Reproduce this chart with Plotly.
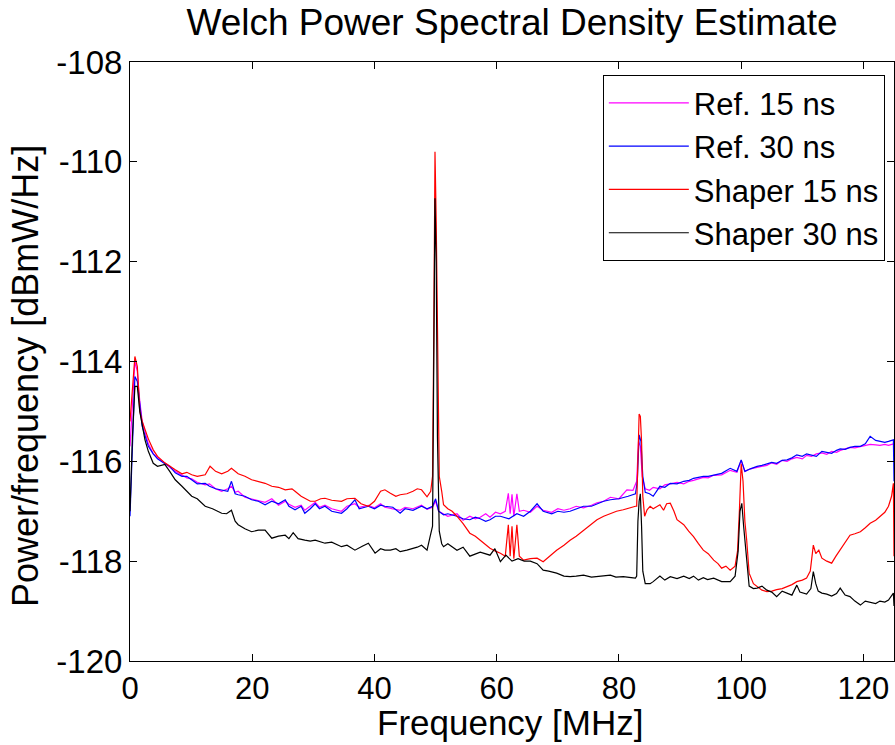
import plotly.graph_objects as go

# ---------------- data ----------------
# Ref. 15 ns (magenta)
ref15_f = [0, 0.4, 0.8, 1.2, 1.6, 2.0, 2.5, 3.0, 3.8, 4.5, 5.7, 6.5, 7.4, 8.5, 9.3, 10.1, 11.0, 12.3, 13.0, 14.0,
           15.0, 16.0, 16.6, 17.2, 17.7, 18.8, 19.9, 21.0, 22.1, 23.2, 24.3, 25.4, 26.0, 27.0, 28.0, 28.6, 29.5,
           30.3, 31.0, 31.9, 33.0, 34.6, 35.5, 36.8, 37.5, 39.0, 40.0, 41.0, 41.7, 43.0, 44.2, 45.0, 46.3, 47.7,
           48.6, 49.5, 50.0, 50.5, 51.3, 52.0, 53.5, 54.5, 55.6, 56.5, 57.3, 58.2, 58.9, 59.8, 60.6, 61.4, 61.9,
           62.2, 62.5, 62.8, 63.3, 63.7, 64.4, 65.5, 66.6, 67.6, 69.0, 70.0, 71.0, 72.0, 73.0, 74.2, 75.5, 76.4,
           77.5, 78.6, 80.0, 81.3, 82.3, 82.9, 83.2, 83.5, 83.8, 84.3, 85.0, 85.6, 86.7, 87.5, 88.4, 89.5, 90.6,
           91.5, 92.2, 93.0, 93.8, 94.6, 95.5, 96.8, 98.2, 99.3, 100.0, 100.6, 101.5, 102.6, 103.4, 104.2, 105.0,
           105.8, 106.7, 107.5, 108.3, 109.1, 110.0, 110.7, 111.5, 112.3, 113.2, 114.0, 114.8, 115.6, 116.2, 117.0,
           117.8, 118.6, 119.5, 120.3, 121.1, 122.0, 122.7, 123.5, 124.1, 124.9, 125.0]
ref15_v = [-115.7, -114.8, -114.0, -114.2, -114.8, -115.2, -115.45, -115.65, -115.85, -115.92, -116.05, -116.12,
           -116.2, -116.27, -116.33, -116.35, -116.42, -116.47, -116.45, -116.55, -116.6, -116.55, -116.5, -116.62,
           -116.6, -116.72, -116.75, -116.78, -116.82, -116.75, -116.88, -116.8, -116.86, -116.92, -116.88,
           -116.98, -116.9, -116.82, -116.92, -116.88, -116.95, -117.0, -116.9, -116.85, -116.92, -116.88, -116.93,
           -116.85, -116.92, -116.95, -116.98, -116.92, -116.95, -116.88, -116.96, -116.92, -116.8, -117.0,
           -117.05, -117.1, -117.05, -117.18, -117.1, -117.15, -117.12, -117.05, -117.12, -117.02, -117.05, -117.0,
           -116.64, -117.05, -116.66, -117.1, -116.65, -117.0, -116.98, -117.02, -116.9, -116.98, -117.02, -116.95,
           -116.98, -116.95, -116.9, -116.93, -116.88, -116.83, -116.8, -116.72, -116.75, -116.57, -116.58,
           -116.4, -115.6, -115.7, -116.3, -116.55, -116.58, -116.52, -116.55, -116.47, -116.45, -116.42, -116.45,
           -116.4, -116.38, -116.35, -116.32, -116.33, -116.28, -116.27, -116.18, -116.22, -115.98, -116.2,
           -116.15, -116.12, -116.1, -116.08, -116.03, -116.06, -115.98, -116.0, -115.95, -115.92, -115.95,
           -115.88, -115.9, -115.85, -115.83, -115.86, -115.8, -115.82, -115.78, -115.75, -115.72, -115.73,
           -115.7, -115.68, -115.66, -115.67, -115.68, -115.66, -115.68, -115.65, -115.66, -116.0]

# Ref. 30 ns (blue)
ref30_f = [0, 0.4, 0.8, 1.2, 1.6, 2.0, 2.5, 3.0, 3.8, 4.5, 5.7, 6.5, 7.4, 8.5, 9.3, 10.1, 11.0, 12.3, 13.0, 14.0,
           15.0, 16.0, 16.6, 17.2, 17.7, 18.8, 19.9, 21.0, 22.1, 23.2, 24.3, 25.4, 26.0, 27.0, 28.0, 28.6, 29.5,
           30.3, 31.0, 31.9, 33.0, 34.6, 35.5, 36.8, 37.5, 39.0, 40.0, 41.0, 41.7, 43.0, 44.2, 45.0, 46.3, 47.7,
           48.6, 49.5, 50.0, 50.5, 51.3, 52.0, 53.5, 54.5, 55.6, 56.5, 57.3, 58.2, 58.9, 59.8, 60.6, 62.0, 63.3,
           64.4, 65.5, 66.6, 67.6, 69.0, 70.0, 71.0, 72.0, 73.0, 74.2, 75.5, 76.4, 77.5, 78.6, 80.0, 81.5, 82.7,
           83.0, 83.3, 83.6, 83.9, 84.3, 85.0, 85.6, 86.7, 87.5, 88.4, 89.5, 90.6, 91.5, 92.2, 93.0, 93.8, 94.6,
           95.5, 96.8, 98.2, 99.3, 100.0, 100.6, 101.5, 102.6, 103.4, 104.2, 105.0, 105.8, 106.7, 107.5, 108.3,
           109.1, 110.0, 110.7, 111.5, 112.3, 113.2, 114.0, 114.8, 115.6, 116.2, 117.0, 117.8, 118.6, 119.5,
           120.3, 121.1, 122.0, 122.7, 123.5, 124.1, 124.9, 125.0]
ref30_v = [-117.1, -115.5, -114.3, -114.4, -114.9, -115.3, -115.5, -115.7, -115.85, -115.95, -116.05, -116.1,
           -116.23, -116.3, -116.3, -116.37, -116.45, -116.44, -116.5, -116.55, -116.57, -116.6, -116.4, -116.65,
           -116.67, -116.7, -116.77, -116.8, -116.87, -116.8, -116.85, -116.77, -116.9, -116.97, -116.9, -117.04,
           -116.95, -116.85, -116.95, -116.9, -117.0, -117.04, -116.95, -116.77, -116.95, -116.9, -116.95, -116.88,
           -116.9, -116.92, -117.04, -116.95, -116.98, -116.9, -116.95, -116.9, -116.75, -117.0, -117.07, -117.05,
           -117.1, -117.15, -117.17, -117.12, -117.15, -117.2, -117.17, -117.1, -117.1, -117.15, -117.05, -117.1,
           -117.0, -116.85, -117.0, -117.05, -117.0, -117.02, -117.0, -116.95, -116.9, -116.9, -116.85, -116.8,
           -116.77, -116.75, -116.7, -116.65, -116.4, -115.47, -115.6, -116.3, -116.62, -116.65, -116.7, -116.5,
           -116.52, -116.44, -116.45, -116.4, -116.38, -116.34, -116.32, -116.3, -116.3, -116.27, -116.24,
           -116.14, -116.2, -115.97, -116.2, -116.15, -116.1, -116.08, -116.05, -116.02, -116.04, -115.98,
           -115.97, -115.93, -115.87, -115.9, -115.85, -115.88, -115.9, -115.8, -115.82, -115.84, -115.78, -115.75,
           -115.76, -115.72, -115.7, -115.7, -115.65, -115.5, -115.58, -115.6, -115.62, -115.6, -115.57, -116.4]

# Shaper 15 ns (red)
sh15_f = [0, 0.4, 0.8, 1.2, 1.6, 2.0, 2.5, 3.0, 3.8, 4.5, 5.7, 6.5, 7.4, 8.5, 9.3, 10.1, 11.0, 12.3, 13.1, 14.0,
          15.0, 16.0, 16.6, 17.7, 18.8, 19.9, 21.0, 22.1, 23.2, 24.3, 25.4, 26.5, 27.0, 28.0, 28.6, 29.5, 30.3,
          31.2, 31.9, 33.0, 34.6, 35.5, 36.8, 37.8, 39.0, 40.0, 41.0, 41.7, 42.6, 43.5, 44.2, 45.3, 46.3, 47.0,
          47.7, 48.6, 49.2, 49.5, 49.7, 49.9, 50.1, 50.3, 50.6, 51.0, 51.3, 52.0, 52.7, 53.5, 54.5, 55.6, 56.5,
          57.3, 58.0, 58.9, 59.8, 60.6, 61.4, 61.9, 62.2, 62.5, 62.8, 63.3, 63.7, 64.4, 65.5, 66.6, 67.6, 68.7,
          69.8, 71.0, 72.0, 73.0, 74.2, 75.3, 76.4, 77.5, 78.6, 79.6, 80.7, 81.7, 82.7, 82.9, 83.1, 83.3, 83.5,
          83.7, 83.9, 84.2, 84.6, 85.1, 85.6, 86.2, 86.7, 87.3, 87.8, 88.4, 89.0, 89.5, 90.6, 91.4, 92.2, 93.0,
          93.8, 94.6, 95.5, 96.2, 96.8, 97.5, 98.2, 99.0, 99.4, 99.7, 100.0, 100.3, 100.6, 100.9, 101.3, 102.0,
          102.6, 103.4, 104.2, 105.0, 105.8, 106.7, 107.5, 108.3, 109.1, 110.0, 110.7, 111.3, 111.8, 112.2,
          112.7, 113.2, 114.0, 114.8, 115.5, 116.2, 117.0, 117.8, 118.6, 119.5, 120.3, 121.1, 122.0, 122.7,
          123.5, 124.1, 124.6, 124.9, 125.0]
sh15_v = [-115.2, -114.5, -113.9, -114.1, -115.0, -115.2, -115.37, -115.55, -115.77, -115.9, -116.03, -116.1,
          -116.17, -116.25, -116.22, -116.27, -116.3, -116.27, -116.1, -116.2, -116.25, -116.2, -116.14, -116.25,
          -116.3, -116.37, -116.4, -116.44, -116.5, -116.52, -116.57, -116.55, -116.6, -116.7, -116.74, -116.8,
          -116.8, -116.75, -116.74, -116.78, -116.8, -116.75, -116.74, -116.85, -116.9, -116.8, -116.6, -116.57,
          -116.64, -116.7, -116.67, -116.65, -116.6, -116.55, -116.57, -116.71, -116.6, -116.3, -113.5, -109.8,
          -111.2, -113.8, -116.3, -116.6, -116.87, -116.95, -117.0, -117.1, -117.25, -117.44, -117.5, -117.58,
          -117.65, -117.74, -117.8, -117.84, -117.9, -117.27, -117.9, -117.3, -117.95, -117.27, -117.9, -117.98,
          -117.95, -117.94, -118.01, -117.9, -117.78, -117.68, -117.58, -117.5, -117.38, -117.28, -117.17, -117.1,
          -117.04, -117.0, -116.97, -116.93, -116.9, -116.9, -115.8, -115.05, -115.1, -115.6, -116.7, -117.1,
          -116.97, -116.9, -116.95, -116.9, -116.87, -116.98, -116.85, -116.84, -117.0, -117.17, -117.27, -117.4,
          -117.51, -117.65, -117.78, -117.85, -117.98, -118.05, -118.14, -118.1, -118.18, -118.1, -117.8, -117.0,
          -116.05, -116.4, -117.2, -117.58, -118.24, -118.45, -118.51, -118.58, -118.61, -118.6, -118.57, -118.55,
          -118.51, -118.47, -118.41, -118.38, -118.34, -118.2, -117.68, -117.85, -117.78, -117.94, -118.0,
          -118.04, -117.9, -117.78, -117.62, -117.48, -117.45, -117.41, -117.33, -117.24, -117.18, -117.1,
          -117.02, -116.9, -116.7, -116.44, -117.9]

# Shaper 30 ns (black)
sh30_f = [0, 0.4, 0.8, 1.2, 1.6, 2.0, 2.45, 3.0, 3.8, 4.5, 5.7, 6.5, 7.4, 8.5, 9.3, 10.1, 11.0, 12.3, 13.5, 14.5,
          15.0, 15.8, 16.6, 17.2, 17.7, 18.8, 19.9, 21.0, 22.1, 23.2, 24.3, 25.4, 26.0, 26.7, 27.5, 28.6, 29.5,
          30.3, 31.2, 31.9, 33.0, 34.0, 34.6, 35.5, 36.8, 38.0, 39.0, 40.1, 41.0, 41.7, 42.6, 43.5, 44.2, 45.3,
          46.3, 47.0, 47.7, 48.6, 49.1, 49.5, 49.7, 49.9, 50.1, 50.3, 50.6, 51.0, 51.3, 52.0, 53.5, 54.5, 55.6,
          57.3, 58.9, 59.7, 60.6, 61.5, 62.5, 63.5, 64.5, 65.5, 66.6, 67.6, 68.5, 69.8, 71.0, 72.0, 73.0, 74.2,
          75.5, 76.4, 77.5, 78.6, 79.5, 80.7, 82.0, 82.7, 82.9, 83.1, 83.3, 83.5, 83.7, 83.9, 84.3, 85.1, 85.6,
          86.7, 87.5, 88.4, 89.5, 90.6, 91.5, 92.2, 93.0, 93.8, 94.5, 95.5, 96.8, 98.2, 99.0, 99.5, 99.8, 100.1,
          100.4, 100.9, 101.3, 102.0, 102.6, 103.4, 104.2, 105.0, 105.8, 106.7, 107.5, 108.3, 109.1, 109.6,
          110.7, 111.4, 111.8, 112.2, 112.6, 113.2, 114.0, 114.8, 115.6, 116.2, 117.0, 117.8, 118.6, 119.5,
          120.3, 121.1, 122.0, 122.7, 123.5, 124.1, 124.9, 125.0]
sh30_v = [-117.0, -115.5, -114.5, -114.5, -115.0, -115.3, -115.57, -115.8, -116.04, -116.1, -116.06, -116.2,
          -116.37, -116.5, -116.6, -116.7, -116.75, -116.9, -116.95, -117.0, -117.04, -117.05, -116.98, -117.2,
          -117.27, -117.35, -117.41, -117.38, -117.38, -117.54, -117.5, -117.48, -117.55, -117.43, -117.55,
          -117.58, -117.6, -117.58, -117.62, -117.64, -117.62, -117.68, -117.71, -117.68, -117.78, -117.7,
          -117.64, -117.84, -117.75, -117.78, -117.78, -117.75, -117.81, -117.78, -117.75, -117.72, -117.68,
          -117.78, -117.51, -117.3, -114.0, -110.73, -112.0, -115.5, -117.4, -117.65, -117.71, -117.65, -117.78,
          -117.72, -117.9, -117.82, -117.88, -117.75, -118.01, -117.88, -118.0, -117.95, -118.0, -118.0, -118.05,
          -118.18, -118.2, -118.24, -118.3, -118.31, -118.3, -118.28, -118.32, -118.31, -118.3, -118.28, -118.32,
          -118.31, -118.33, -118.34, -118.3, -117.2, -116.8, -116.65, -117.3, -118.2, -118.45, -118.45, -118.41,
          -118.3, -118.38, -118.31, -118.35, -118.3, -118.35, -118.3, -118.38, -118.33, -118.37, -118.34,
          -118.41, -118.41, -118.3, -117.8, -117.0, -116.84, -117.3, -117.9, -118.5, -118.55, -118.54, -118.5,
          -118.58, -118.62, -118.71, -118.6, -118.64, -118.68, -118.48, -118.62, -118.66, -118.55, -118.21,
          -118.45, -118.6, -118.64, -118.66, -118.7, -118.65, -118.54, -118.68, -118.71, -118.8, -118.88, -118.8,
          -118.82, -118.85, -118.8, -118.82, -118.78, -118.64, -118.9]

series_names = ["Ref. 15 ns", "Ref. 30 ns", "Shaper 15 ns", "Shaper 30 ns"]
series_colors = ["#ff00ff", "#0000ff", "#ff0000", "#000000"]

x_ticks = [0, 20, 40, 60, 80, 100, 120]
y_ticks = [-120, -118, -116, -114, -112, -110, -108]

title_text = "Welch Power Spectral Density Estimate"
x_label = "Frequency [MHz]"
y_label = "Power/frequency [dBmW/Hz]"

# ---------------- figure ----------------
FONT = "Liberation Sans, Arial, Helvetica, sans-serif"
W, H = 895, 745
ML, MR, MT, MB = 130, 1, 62, 84
PW, PH = W - ML - MR, H - MT - MB

fig = go.Figure()
for name, color, fx, fy in zip(series_names, series_colors,
                               [ref15_f, ref30_f, sh15_f, sh30_f],
                               [ref15_v, ref30_v, sh15_v, sh30_v]):
    fig.add_trace(go.Scatter(x=fx, y=fy, mode="lines", name=name,
                             line=dict(color=color, width=1.2)))

axis_common = dict(showline=True, linecolor="black", linewidth=1, mirror="ticks",
                   ticks="inside", ticklen=7, tickcolor="black", tickwidth=1,
                   showgrid=False, zeroline=False)

fig.update_layout(
    width=W, height=H,
    margin=dict(l=ML, r=MR, t=MT, b=MB),
    paper_bgcolor="white", plot_bgcolor="white",
    title=dict(text=title_text,
               font=dict(family=FONT, size=37, color="black"),
               x=0.5, xref="paper", xanchor="center",
               y=1 - 22 / H, yref="container", yanchor="middle"),
    xaxis=dict(range=[0, 125], tickvals=x_ticks, ticktext=[str(t) for t in x_ticks],
               tickfont=dict(family=FONT, size=31, color="black"),
               **axis_common),
    yaxis=dict(range=[-120, -108], tickvals=y_ticks, ticktext=[str(t) for t in y_ticks],
               tickfont=dict(family=FONT, size=33, color="black"),
               **axis_common),
    legend=dict(x=0.988, y=0.978, xanchor="right", yanchor="top",
                bgcolor="white", bordercolor="black", borderwidth=1,
                font=dict(family=FONT, size=31, color="black"),
                tracegroupgap=0, itemwidth=80),
    showlegend=True,
    annotations=[
        dict(text=x_label, xref="paper", yref="paper",
             x=(510 - ML) / PW, y=-(722 - (MT + PH)) / PH,
             xanchor="center", yanchor="middle", showarrow=False,
             font=dict(family=FONT, size=35, color="black")),
        dict(text=y_label, xref="paper", yref="paper", textangle=-90,
             x=(25 - ML) / PW, y=(MT + PH - 376) / PH,
             xanchor="center", yanchor="middle", showarrow=False,
             font=dict(family=FONT, size=36, color="black")),
    ],
)

fig.write_html("out.html", config={"displayModeBar": False})
